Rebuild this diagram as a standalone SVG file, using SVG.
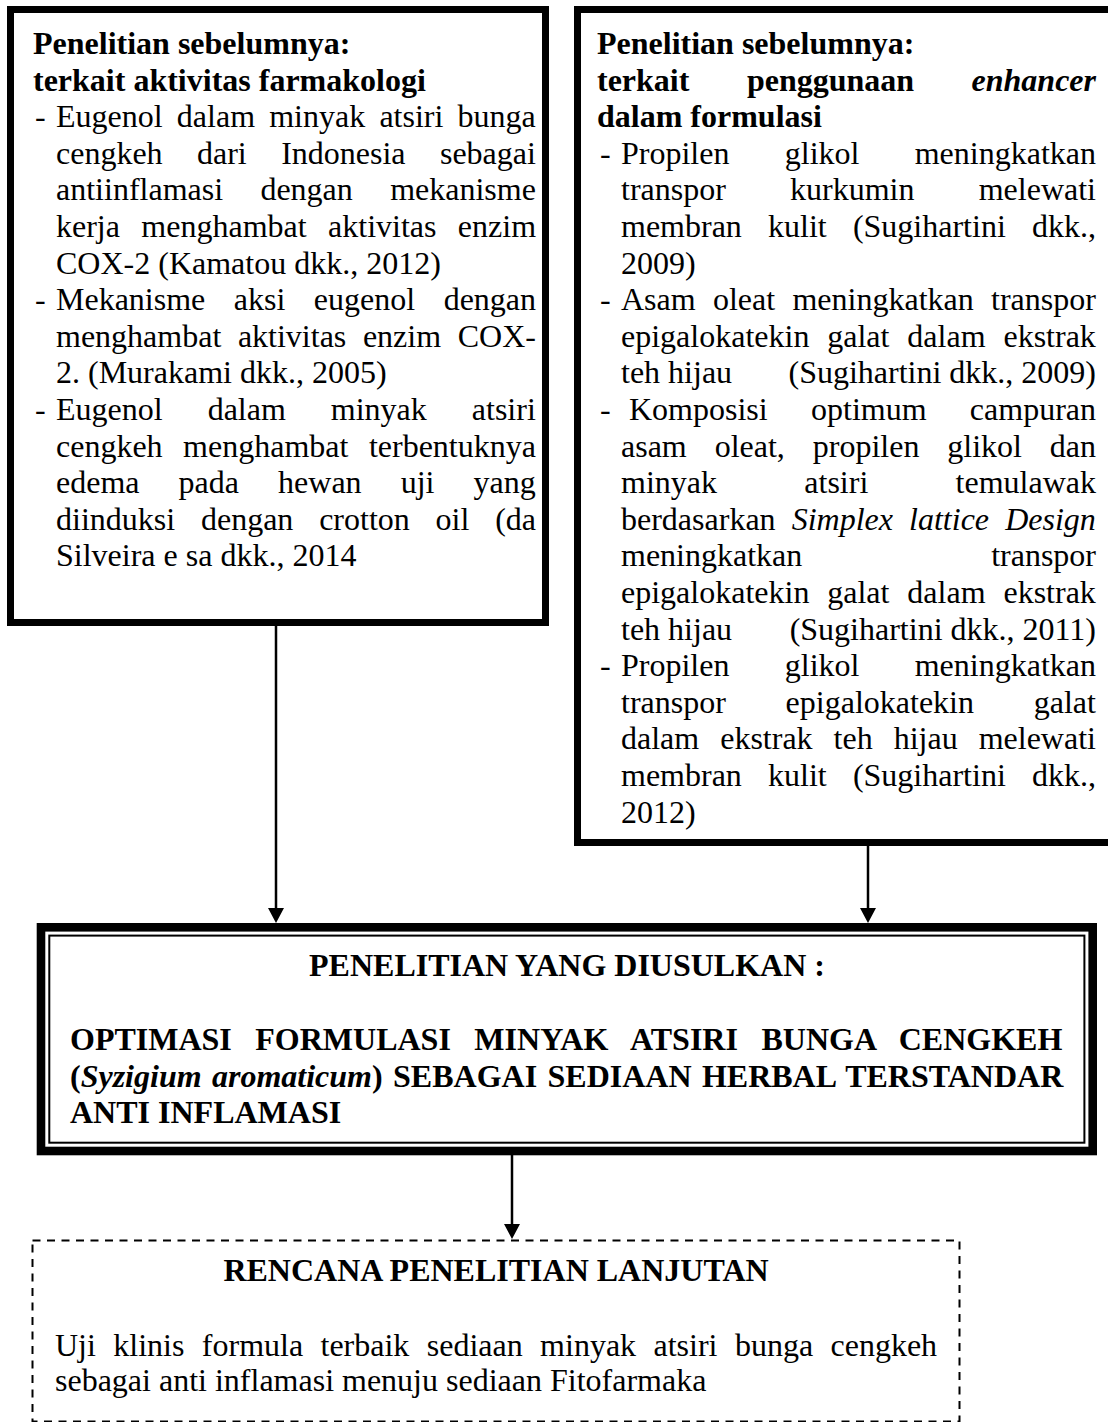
<svg xmlns="http://www.w3.org/2000/svg" width="1108" height="1422" viewBox="0 0 1108 1422">
<defs>
<style>
.t{font-family:"Liberation Serif","Times New Roman",serif;font-size:32px;fill:#000}
.b{font-weight:bold}
.i{font-style:italic}
.box{fill:#fff;stroke:#000;stroke-width:7}
.thick{fill:#fff;stroke:#000;stroke-width:8.6}
.thin{fill:none;stroke:#000;stroke-width:2}
.dash{fill:#fff;stroke:#000;stroke-width:2;stroke-dasharray:8 6.5}
.conn{fill:none;stroke:#000;stroke-width:2.5;marker-end:url(#arr)}
</style>
<marker id="arr" markerUnits="userSpaceOnUse" markerWidth="15" markerHeight="16" refX="3" refY="8" orient="auto">
<path d="M0,0 L15,8 L0,16 Z" fill="#000"/>
</marker>
</defs>
<rect x="0" y="0" width="1108" height="1422" fill="#fff"/>

<g id="node-farmakologi">
<rect class="box" x="10.5" y="9.5" width="535" height="613"/>
<text class="t b" x="33" y="54">Penelitian sebelumnya:</text>
<text class="t b" x="33" y="90.6">terkait aktivitas farmakologi</text>
<text class="t" x="35" y="127.2">-</text>
<text class="t" x="56" y="127.2" word-spacing="6.2">Eugenol dalam minyak atsiri bunga</text>
<text class="t" x="56" y="163.8" word-spacing="26.4">cengkeh dari Indonesia sebagai</text>
<text class="t" x="56" y="200.4" word-spacing="29.35">antiinflamasi dengan mekanisme</text>
<text class="t" x="56" y="237" word-spacing="13.4">kerja menghambat aktivitas enzim</text>
<text class="t" x="56" y="273.6">COX-2 (Kamatou dkk., 2012)</text>
<text class="t" x="35" y="310.2">-</text>
<text class="t" x="56" y="310.2" word-spacing="20.5">Mekanisme aksi eugenol dengan</text>
<text class="t" x="56" y="346.8" word-spacing="8.6">menghambat aktivitas enzim COX-</text>
<text class="t" x="56" y="383.4">2. (Murakami dkk., 2005)</text>
<text class="t" x="35" y="420">-</text>
<text class="t" x="56" y="420" word-spacing="37">Eugenol dalam minyak atsiri</text>
<text class="t" x="56" y="456.6" word-spacing="12.5">cengkeh menghambat terbentuknya</text>
<text class="t" x="56" y="493.2" word-spacing="31.1">edema pada hewan uji yang</text>
<text class="t" x="56" y="529.8" word-spacing="17.8">diinduksi dengan crotton oil (da</text>
<text class="t" x="56" y="566.4">Silveira e sa dkk., 2014</text>
</g>

<g id="node-enhancer">
<rect class="box" x="577.5" y="9.5" width="540" height="833"/>
<text class="t b" x="597" y="54">Penelitian sebelumnya:</text>
<text class="t b" x="597" y="90.6">terkait</text>
<text class="t b" x="746.9" y="90.6">penggunaan</text>
<text class="t b i" x="1096" y="90.6" text-anchor="end">enhancer</text>
<text class="t b" x="597" y="127.2">dalam formulasi</text>
<text class="t" x="600" y="163.8">-</text>
<text class="t" x="621" y="163.8" word-spacing="47.3">Propilen glikol meningkatkan</text>
<text class="t" x="621" y="200.4" word-spacing="56.2">transpor kurkumin melewati</text>
<text class="t" x="621" y="237" word-spacing="18.2">membran kulit (Sugihartini dkk.,</text>
<text class="t" x="621" y="273.6">2009)</text>
<text class="t" x="600" y="310.2">-</text>
<text class="t" x="621" y="310.2" word-spacing="9.3">Asam oleat meningkatkan transpor</text>
<text class="t" x="621" y="346.8" word-spacing="9.9">epigalokatekin galat dalam ekstrak</text>
<text class="t" x="621" y="383.4">teh hijau</text>
<text class="t" x="1096" y="383.4" text-anchor="end">(Sugihartini dkk., 2009)</text>
<text class="t" x="600" y="420">-</text>
<text class="t" x="629" y="420" word-spacing="35.3">Komposisi optimum campuran</text>
<text class="t" x="621" y="456.6" word-spacing="19.9">asam oleat, propilen glikol dan</text>
<text class="t" x="621" y="493.2" word-spacing="79.3">minyak atsiri temulawak</text>
<text class="t" x="621" y="529.8" word-spacing="8.1">berdasarkan <tspan class="i">Simplex lattice Design</tspan></text>
<text class="t" x="621" y="566.4">meningkatkan</text>
<text class="t" x="1096" y="566.4" text-anchor="end">transpor</text>
<text class="t" x="621" y="603" word-spacing="9.9">epigalokatekin galat dalam ekstrak</text>
<text class="t" x="621" y="639.6">teh hijau</text>
<text class="t" x="1096" y="639.6" text-anchor="end">(Sugihartini dkk., 2011)</text>
<text class="t" x="600" y="676.2">-</text>
<text class="t" x="621" y="676.2" word-spacing="47.3">Propilen glikol meningkatkan</text>
<text class="t" x="621" y="712.8" word-spacing="51.75">transpor epigalokatekin galat</text>
<text class="t" x="621" y="749.4" word-spacing="13">dalam ekstrak teh hijau melewati</text>
<text class="t" x="621" y="786" word-spacing="18.2">membran kulit (Sugihartini dkk.,</text>
<text class="t" x="621" y="822.6">2012)</text>
</g>

<g id="node-usulan">
<rect class="thick" x="41" y="927.3" width="1051.7" height="223.7"/>
<rect class="thin" x="49.3" y="935.6" width="1035.1" height="207.1"/>
<text class="t b" x="567" y="976" text-anchor="middle">PENELITIAN YANG DIUSULKAN :</text>
<text class="t b" x="70" y="1050" word-spacing="15.5">OPTIMASI FORMULASI MINYAK ATSIRI BUNGA CENGKEH</text>
<text class="t b" x="70" y="1086.6" word-spacing="2.4">(<tspan class="i">Syzigium aromaticum</tspan>) SEBAGAI SEDIAAN HERBAL TERSTANDAR</text>
<text class="t b" x="70" y="1123.2">ANTI INFLAMASI</text>
</g>

<g id="node-lanjutan">
<rect class="dash" x="32.5" y="1240.5" width="927" height="181"/>
<text class="t b" x="496" y="1281" text-anchor="middle">RENCANA PENELITIAN LANJUTAN</text>
<text class="t" x="55" y="1356" word-spacing="9.4">Uji klinis formula terbaik sediaan minyak atsiri bunga cengkeh</text>
<text class="t" x="55" y="1391">sebagai anti inflamasi menuju sediaan Fitofarmaka</text>
</g>

<g id="connectors">
<line class="conn" x1="276" y1="626" x2="276" y2="911"/>
<line class="conn" x1="868" y1="846" x2="868" y2="911"/>
<line class="conn" x1="512" y1="1155" x2="512" y2="1227"/>
</g>
</svg>
